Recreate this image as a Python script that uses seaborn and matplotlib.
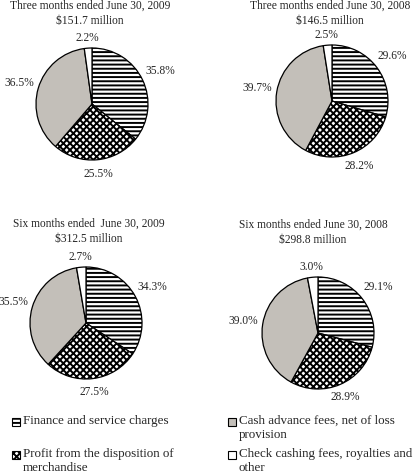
import numpy as np
import seaborn as sns
import matplotlib
matplotlib.use("Agg")
import matplotlib.pyplot as plt
from matplotlib.patches import Rectangle

# =====================================================
# DATA
# =====================================================
CATEGORIES = [
    "Finance and service charges",
    "Profit from the disposition of\nmerchandise",
    "Cash advance fees, net of loss\nprovision",
    "Check cashing fees, royalties and\nother",
]
TITLES = [
    "Three months ended June 30, 2009\n$151.7 million",
    "Three months ended June 30, 2008\n$146.5 million",
    "Six months ended  June 30, 2009\n$312.5 million",
    "Six months ended June 30, 2008\n$298.8 million",
]
share_3m_2009 = [35.8, 25.5, 36.5, 2.2]
share_3m_2008 = [29.6, 28.2, 39.7, 2.5]
share_6m_2009 = [34.3, 27.5, 35.5, 2.7]
share_6m_2008 = [29.1, 28.9, 39.0, 3.0]
SHARES = [share_3m_2009, share_3m_2008, share_6m_2009, share_6m_2008]

# =====================================================
# STYLE
# =====================================================
sns.set_theme(style="white")
plt.rcParams["font.family"] = ["Liberation Serif", "DejaVu Serif"]
plt.rcParams["hatch.linewidth"] = 1.4

FACES = ["white", "white", "#c3bfb9", "white"]
HATCHES = ["----", "xxxxx", None, None]
LABEL_DIST = [1.35, 1.25, 1.35, 1.18]

W, H = 416, 476
fig = plt.figure(figsize=(W / 100, H / 100), dpi=100)


def px(x, y):
    return x / W, 1 - y / H


# pie centre (px) and radius (px), title centre x / top y
layout = [
    (92, 104, 56, 90, 0),
    (332, 101, 56, 330, 0),
    (86, 323, 56, 89, 218),
    (318, 333, 56, 313, 219),
]

for shares, title, (cx, cy, r, tx, ty) in zip(SHARES, TITLES, layout):
    ax = fig.add_axes([(cx - 1.5 * r) / W, 1 - (cy + 1.5 * r) / H, 3 * r / W, 3 * r / H])
    wedges, texts = ax.pie(
        shares,
        labels=[f"{v:.1f}%" for v in shares],
        startangle=90,
        counterclock=False,
        colors=FACES,
        labeldistance=1.0,
        wedgeprops=dict(edgecolor="black", linewidth=0.9),
        textprops=dict(fontsize=8.3),
    )
    for w, h in zip(wedges, HATCHES):
        if h:
            w.set_hatch(h)
    for t, d in zip(texts, LABEL_DIST):
        x, y = t.get_position()
        t.set_position((x * d, y * d))
        t.set_ha("center")
        t.set_va("center")
    ax.set_xlim(-1.5, 1.5)
    ax.set_ylim(-1.5, 1.5)
    ax.set_aspect("equal")
    ax.axis("off")
    fig.text(*px(tx, ty), title, ha="center", va="top", fontsize=8.3,
             linespacing=1.3)

# =====================================================
# LEGEND (two columns, first line aligned)
# =====================================================
legend_pos = [(12, 422), (12, 455), (228, 422), (228, 455)]
for label, face, hatch, (lx, ly) in zip(CATEGORIES, FACES, HATCHES, legend_pos):
    x0, y0 = px(lx, ly + 4)
    fig.patches.append(Rectangle((x0, y0), 8 / W, 8 / H, transform=fig.transFigure,
                                 facecolor=face, edgecolor="black", linewidth=0.8,
                                 hatch=hatch))
    fig.text(*px(lx + 11, ly - 7), label, ha="left", va="top", fontsize=9.4,
             linespacing=1.25)

fig.savefig("out.png", dpi=100)
